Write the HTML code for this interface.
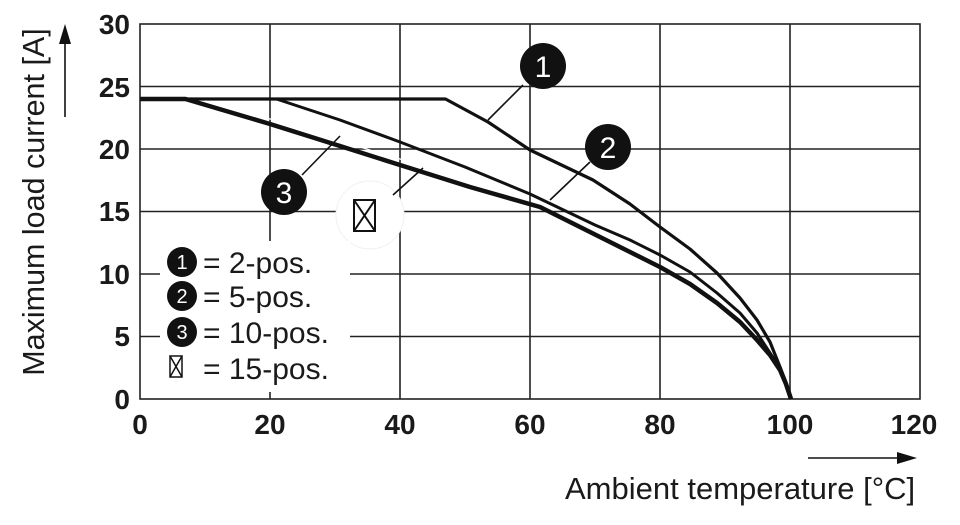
<!DOCTYPE html>
<html><head><meta charset="utf-8"><style>
html,body{margin:0;padding:0;background:#fff;}
svg{display:block;font-family:"Liberation Sans",Arial,sans-serif;}
</style></head><body>
<svg width="960" height="525" viewBox="0 0 960 525" xmlns="http://www.w3.org/2000/svg">
<rect width="960" height="525" fill="#fff"/>
<g stroke="#222" stroke-width="1.6" fill="none">
<rect x="140" y="24" width="780" height="375"/>
<line x1="270" y1="24" x2="270" y2="399"/>
<line x1="400" y1="24" x2="400" y2="399"/>
<line x1="530" y1="24" x2="530" y2="399"/>
<line x1="660" y1="24" x2="660" y2="399"/>
<line x1="790" y1="24" x2="790" y2="399"/>
<line x1="140" y1="86.5" x2="920" y2="86.5"/>
<line x1="140" y1="149" x2="920" y2="149"/>
<line x1="140" y1="211.5" x2="920" y2="211.5"/>
<line x1="140" y1="274" x2="920" y2="274"/>
<line x1="140" y1="336.5" x2="920" y2="336.5"/>
</g>
<g font-weight="bold" font-size="28" fill="#1a1a1a" text-anchor="end">
<text x="130" y="34">30</text><text x="130" y="97">25</text><text x="130" y="159">20</text>
<text x="130" y="221">15</text><text x="130" y="284">10</text><text x="130" y="346">5</text><text x="130" y="409">0</text>
</g>
<g font-weight="bold" font-size="28" fill="#1a1a1a" text-anchor="middle">
<text x="140" y="434">0</text><text x="270" y="434">20</text><text x="400" y="434">40</text>
<text x="530" y="434">60</text><text x="660" y="434">80</text><text x="790" y="434">100</text><text x="914" y="434">120</text>
</g>
<text transform="translate(44,202) rotate(-90)" font-size="30.5" text-anchor="middle" fill="#1a1a1a">Maximum load current [A]</text>
<line x1="65" y1="117" x2="65" y2="40" stroke="#111" stroke-width="1.6"/>
<polygon points="65,24 59,44 71,44" fill="#111"/>
<text x="565" y="499" font-size="31" fill="#1a1a1a">Ambient temperature [°C]</text>
<line x1="808" y1="458" x2="900" y2="458" stroke="#111" stroke-width="1.6"/>
<polygon points="917,458 897,452 897,464" fill="#111"/>
<g fill="none" stroke="#111" stroke-linejoin="round">
<polyline stroke-width="3.2" points="140,99 445.5,99 488,122 530,150 593,180 630,204 660,227 690,249 717,273 740,298 757,320 770,342 780,367 786,383 791,399"/>
<polyline stroke-width="3" points="140,99 276.5,99 340,120 400,142 465,167 530,194 595,225 630,240 660,255 690,272 717,293 740,313 757,333 772,356 780,367 786,382 791,399"/>
<polyline stroke-width="4.5" points="140,99 185.5,99 270,124 340,146 400,165 470,187 540,207 600,237 660,267 690,284 717,303 740,322 757,340 770,355 780,370 786,384 791,399"/>
<polyline stroke-width="1.2" stroke="#fff" points="205,101 270,119 340,141 400,159 450,175"/>
</g>
<circle cx="370" cy="215" r="34" fill="#fff" stroke="#f0f0f0"/>
<g stroke="#111" stroke-width="1.6">
<line x1="523" y1="85" x2="488" y2="120"/>
<line x1="590" y1="162" x2="550" y2="200"/>
<line x1="302" y1="175" x2="340" y2="136"/>
<line x1="393" y1="195" x2="423" y2="168"/>
</g>
<g fill="#111"><circle cx="543" cy="66" r="23"/><circle cx="608" cy="147" r="23"/><circle cx="284" cy="192" r="23"/></g>
<g fill="#fff" font-size="30" text-anchor="middle"><text x="543" y="77">1</text><text x="608" y="158">2</text><text x="284" y="203">3</text></g>
<g stroke="#111" stroke-width="2" fill="none"><rect x="354" y="200" width="21" height="31"/><line x1="354" y1="200" x2="375" y2="231"/><line x1="375" y1="200" x2="354" y2="231"/></g>
<rect x="160" y="241" width="190" height="151" fill="#fff"/>
<g fill="#111"><circle cx="182" cy="262" r="15"/><circle cx="182" cy="296" r="15"/><circle cx="182" cy="332" r="15"/></g>
<g fill="#fff" font-size="20" text-anchor="middle"><text x="182" y="269">1</text><text x="182" y="303">2</text><text x="182" y="339">3</text></g>
<g stroke="#111" stroke-width="1.5" fill="none"><rect x="170" y="356" width="12" height="21"/><line x1="170" y1="356" x2="182" y2="377"/><line x1="182" y1="356" x2="170" y2="377"/></g>
<g font-size="30" fill="#1a1a1a">
<text x="203" y="273">= 2-pos.</text><text x="203" y="307">= 5-pos.</text>
<text x="203" y="343">= 10-pos.</text><text x="203" y="379">= 15-pos.</text>
</g>
</svg>
</body></html>
